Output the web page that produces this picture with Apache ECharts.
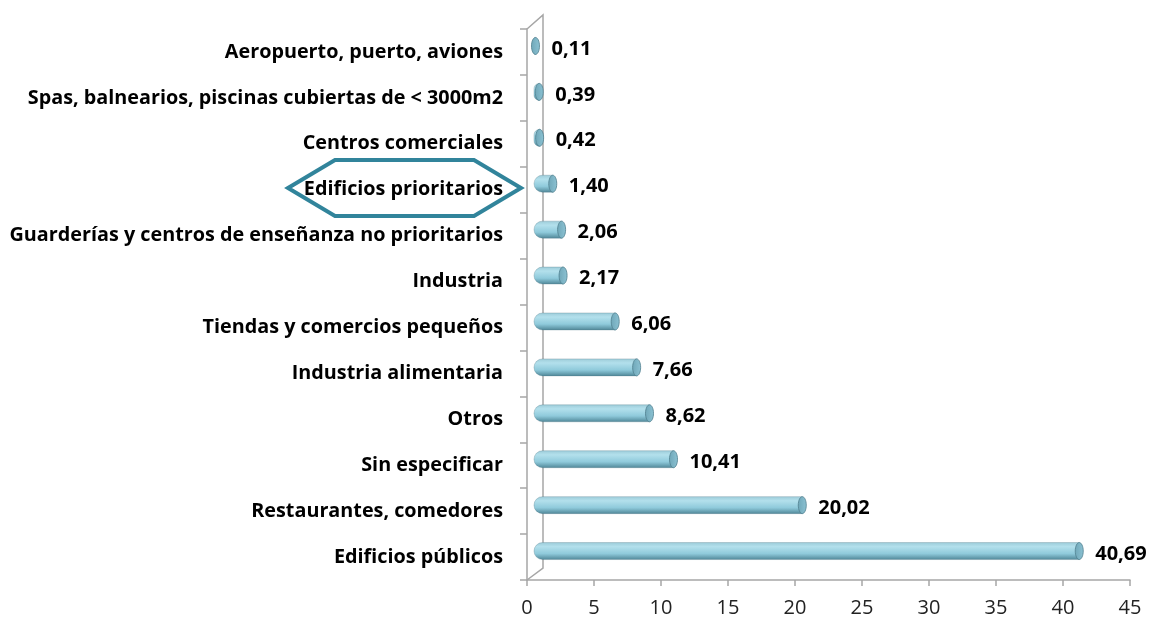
<!DOCTYPE html>
<html>
<head>
<meta charset="utf-8">
<script src="https://cdn.jsdelivr.net/npm/echarts@6/dist/echarts.min.js"></script>
<style>
  html, body { margin: 0; padding: 0; background: #fff; }
  #chart { width: 1150px; height: 622px; }
</style>
</head>
<body>
<div id="chart"></div>
<script>
// categories listed bottom to top
const categories = [
  'Edificios públicos',
  'Restaurantes, comedores',
  'Sin especificar',
  'Otros',
  'Industria alimentaria',
  'Tiendas y comercios pequeños',
  'Industria',
  'Guarderías y centros de enseñanza no prioritarios',
  'Edificios prioritarios',
  'Centros comerciales',
  'Spas, balnearios, piscinas cubiertas de < 3000m2',
  'Aeropuerto, puerto, aviones'
];
const values = [40.69, 20.02, 10.41, 8.62, 7.66, 6.06, 2.17, 2.06, 1.40, 0.42, 0.39, 0.11];
const xTicks = [0, 45, 5]; // min, max, interval

const chart = echarts.init(document.getElementById('chart'));

const axisGray = '#a6a6a6';
const depthX = 7, depthY = -6;

const fmt = v => v.toFixed(2).replace('.', ',');

chart.setOption({
  animation: false,
  grid: { left: 527, right: 20, top: 29, bottom: 42, containLabel: false },
  xAxis: {
    type: 'value',
    min: xTicks[0], max: xTicks[1], interval: xTicks[2],
    axisLine: { show: true, lineStyle: { color: axisGray, width: 1.5 } },
    axisTick: { show: true, length: 6, lineStyle: { color: axisGray, width: 1.5 } },
    axisLabel: { color: '#222', fontSize: 20, fontFamily: 'Open Sans', margin: 18 },
    splitLine: { show: false }
  },
  yAxis: {
    type: 'category',
    data: categories,
    axisLine: { show: true, lineStyle: { color: axisGray, width: 1.5 } },
    axisTick: { show: true, length: 7, lineStyle: { color: axisGray, width: 1.5 } },
    axisLabel: {
      color: '#000', fontSize: 19.8, fontWeight: 'bold', fontFamily: 'Open Sans',
      margin: 24, padding: [4, 0, 0, 0]
    }
  },
  series: [{
    type: 'custom',
    data: values.map((v, i) => [v, i]),
    encode: { x: 0, y: 1 },
    renderItem: function (params, api) {
      const v = api.value(0);
      const idx = api.value(1);
      const start = api.coord([0, idx]);
      const end = api.coord([v, idx]);
      const h = 17;
      const rx = 4;
      const x0 = start[0] + depthX;
      const x1 = Math.max(end[0] + depthX, x0 + 1);
      const cy = start[1] + depthY;
      return {
        type: 'group',
        children: [
          {
            type: 'rect',
            shape: { x: x0, y: cy - h / 2, width: x1 - x0, height: h, r: [h / 2, 0, 0, h / 2] },
            style: {
              fill: new echarts.graphic.LinearGradient(0, 0, 0, 1, [
                { offset: 0, color: '#9ccbd8' },
                { offset: 0.25, color: '#b3e0ec' },
                { offset: 0.65, color: '#8fcadb' },
                { offset: 1, color: '#4e8596' }
              ]),
              stroke: 'rgba(80,120,135,0.5)', lineWidth: 0.6
            }
          },
          {
            type: 'ellipse',
            shape: { cx: x1, cy: cy, rx: rx, ry: h / 2 },
            style: {
              fill: new echarts.graphic.LinearGradient(0, 0, 1, 0, [
                { offset: 0, color: '#6fa7b8' },
                { offset: 1, color: '#8cc2d3' }
              ]),
              stroke: '#4f7f8e', lineWidth: 0.8
            }
          },
          {
            type: 'text',
            style: {
              x: x1 + rx + 12, y: cy + 3,
              text: fmt(v),
              fill: '#000',
              font: 'bold 20px "Open Sans"',
              verticalAlign: 'middle', align: 'left'
            }
          }
        ]
      };
    }
  }],
  graphic: [
    // back wall of the 3D plot area
    {
      type: 'polyline',
      shape: { points: [[527, 29], [527 + 16, 15], [527 + 16, 568], [527, 580]] },
      style: { stroke: axisGray, lineWidth: 1.5, fill: null },
      z: 1
    },
    // annotation hexagon
    {
      type: 'polygon',
      shape: { points: [[288, 188], [335, 160], [474, 160], [521, 188], [474, 216], [335, 216]] },
      style: { stroke: '#31849b', lineWidth: 4, fill: null },
      z: 10
    }
  ]
});
</script>
</body>
</html>
